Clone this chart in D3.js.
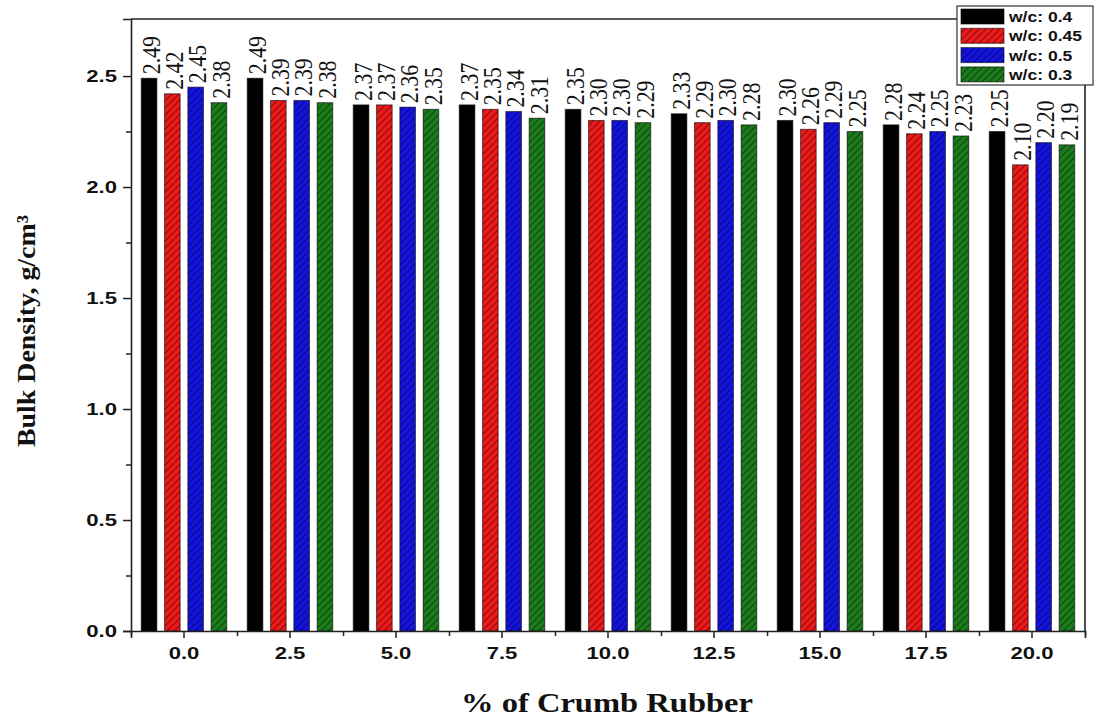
<!DOCTYPE html>
<html>
<head>
<meta charset="utf-8">
<script src="https://cdn.jsdelivr.net/npm/d3@7"></script>
<style>
  html, body { margin: 0; padding: 0; background: #fff; }
  svg { display: block; }
</style>
</head>
<body>
<div id="chart"></div>
<script>
  /* ── Data ── */
  var categories = ['0.0', '2.5', '5.0', '7.5', '10.0', '12.5', '15.0', '17.5', '20.0'];
  var series = ['w/c: 0.4', 'w/c: 0.45', 'w/c: 0.5', 'w/c: 0.3'];
  var wc04  = [2.49, 2.49, 2.37, 2.37, 2.35, 2.33, 2.30, 2.28, 2.25];
  var wc045 = [2.42, 2.39, 2.37, 2.35, 2.30, 2.29, 2.26, 2.24, 2.10];
  var wc05  = [2.45, 2.39, 2.36, 2.34, 2.30, 2.30, 2.29, 2.25, 2.20];
  var wc03  = [2.38, 2.38, 2.35, 2.31, 2.29, 2.28, 2.25, 2.23, 2.19];
  var values = [wc04, wc045, wc05, wc03];
  var yTicks = [0.0, 0.5, 1.0, 1.5, 2.0, 2.5];

(function () {
  var colors = ['#000000', '#ee1a1a', '#1414e0', '#1c7c1c'];
  var hatched = [false, true, true, true];

  var W = 1094, H = 719;
  var mLeft = 131, mRight = 1085, mTop = 19, mBottom = 631;

  var svg = d3.select('#chart').append('svg')
    .attr('width', W).attr('height', H);

  /* Hatch pattern (///) */
  var defs = svg.append('defs');
  colors.forEach(function (c, i) {
    var p = defs.append('pattern')
      .attr('id', 'hatch' + i)
      .attr('patternUnits', 'userSpaceOnUse')
      .attr('width', 7).attr('height', 7);
    p.append('rect').attr('width', 7).attr('height', 7).attr('fill', c);
    if (hatched[i]) {
      p.append('path')
        .attr('d', 'M-1,8 L8,-1 M-1,1 L1,-1 M6,8 L8,6')
        .attr('stroke', 'rgba(0,0,0,0.45)')
        .attr('stroke-width', 1.1);
    }
  });

  /* Scales */
  var x = d3.scaleBand().domain(categories).range([mLeft, mRight]).padding(0);
  var xInner = d3.scaleBand().domain(d3.range(series.length))
    .range([0, x.bandwidth()]).paddingInner(0.33).paddingOuter(0.44);
  var y = d3.scaleLinear().domain([0, 2.757]).range([mBottom, mTop]);

  /* Bars */
  var barG = svg.append('g');
  values.forEach(function (vals, si) {
    barG.selectAll('rect.s' + si)
      .data(vals)
      .join('rect')
      .attr('class', 's' + si)
      .attr('x', function (d, i) { return x(categories[i]) + xInner(si); })
      .attr('y', function (d) { return y(d); })
      .attr('width', xInner.bandwidth())
      .attr('height', function (d) { return y(0) - y(d); })
      .attr('fill', 'url(#hatch' + si + ')')
      .attr('stroke', 'rgba(0,0,0,0.6)')
      .attr('stroke-width', 1);
  });

  /* Value labels (rotated) */
  var lblG = svg.append('g');
  values.forEach(function (vals, si) {
    lblG.selectAll('text.s' + si)
      .data(vals)
      .join('text')
      .attr('class', 's' + si)
      .attr('transform', function (d, i) {
        var cx = x(categories[i]) + xInner(si) + xInner.bandwidth() / 2 + 2;
        return 'translate(' + cx + ',' + (y(d) - 4) + ') rotate(-90) scale(0.84,1)';
      })
      .attr('dy', '0.33em')
      .attr('font-family', '"Liberation Serif", "Times New Roman", serif')
      .attr('font-size', 26)
      .attr('fill', '#111')
      .text(function (d) { return d.toFixed(2); });
  });

  /* Axes */
  function stretch(sel, k) {
    sel.each(function () {
      var len = this.getComputedTextLength();
      this.setAttribute('textLength', len * k);
      this.setAttribute('lengthAdjust', 'spacingAndGlyphs');
    });
  }

  var yAxis = svg.append('g')
    .attr('transform', 'translate(' + mLeft + ',0)')
    .call(d3.axisLeft(y).tickValues(yTicks).tickFormat(d3.format('.1f')).tickSize(8).tickPadding(6));
  svg.append('g')
    .attr('transform', 'translate(' + mLeft + ',0)')
    .call(d3.axisLeft(y).tickValues(d3.range(0.25, 2.75, 0.5)).tickFormat('').tickSize(5))
    .select('.domain').remove();

  var xAxis = svg.append('g')
    .attr('transform', 'translate(0,' + mBottom + ')')
    .call(d3.axisBottom(x).tickSize(7).tickPadding(10));
  svg.append('g')
    .attr('transform', 'translate(0,' + mBottom + ')')
    .call(d3.axisBottom(d3.scaleLinear().domain([0, 9]).range([mLeft, mRight]))
      .tickValues(d3.range(0, 10)).tickFormat('').tickSize(5))
    .select('.domain').remove();

  svg.selectAll('.domain').attr('stroke', '#222').attr('stroke-width', 1.6);
  svg.selectAll('.tick line').attr('stroke', '#222').attr('stroke-width', 1.5);

  [yAxis, xAxis].forEach(function (ax) {
    ax.selectAll('.tick text')
      .attr('font-family', '"Liberation Sans", Arial, sans-serif')
      .attr('font-weight', 'bold')
      .attr('font-size', 16)
      .attr('fill', '#111')
      .call(stretch, 1.38);
  });

  /* Frame: top and right */
  svg.append('path')
    .attr('d', 'M' + mLeft + ',' + mTop + ' H957 M' + mRight + ',85 V' + mBottom)
    .attr('fill', 'none')
    .attr('stroke', '#222')
    .attr('stroke-width', 1.6);

  /* Axis titles */
  svg.append('text')
    .attr('transform', 'translate(35,331) rotate(-90)')
    .attr('text-anchor', 'middle')
    .attr('font-family', '"Liberation Serif", "Times New Roman", serif')
    .attr('font-weight', 'bold')
    .attr('font-size', 26)
    .attr('textLength', 232)
    .attr('lengthAdjust', 'spacingAndGlyphs')
    .attr('fill', '#111')
    .text('Bulk Density, g/cm\u00b3');

  svg.append('text')
    .attr('x', 607).attr('y', 712)
    .attr('text-anchor', 'middle')
    .attr('font-family', '"Liberation Serif", "Times New Roman", serif')
    .attr('font-weight', 'bold')
    .attr('font-size', 27)
    .attr('textLength', 292)
    .attr('lengthAdjust', 'spacingAndGlyphs')
    .attr('fill', '#111')
    .text('% of Crumb Rubber');

  /* Legend */
  var lg = svg.append('g');
  lg.append('rect')
    .attr('x', 957).attr('y', 6).attr('width', 136).attr('height', 79)
    .attr('fill', '#fff').attr('stroke', '#333').attr('stroke-width', 1.2);
  series.forEach(function (s, i) {
    var ry = 9 + i * 19.3;
    lg.append('rect')
      .attr('x', 961).attr('y', ry).attr('width', 43).attr('height', 15)
      .attr('fill', 'url(#hatch' + i + ')')
      .attr('stroke', 'rgba(0,0,0,0.6)').attr('stroke-width', 1);
    lg.append('text')
      .attr('x', 1009).attr('y', ry + 7.5)
      .attr('dy', '0.36em')
      .attr('font-family', '"Liberation Sans", Arial, sans-serif')
      .attr('font-weight', 'bold')
      .attr('font-size', 15.5)
      .attr('fill', '#111')
      .text(s)
      .call(stretch, 1.13);
  });
})();
</script>
</body>
</html>
